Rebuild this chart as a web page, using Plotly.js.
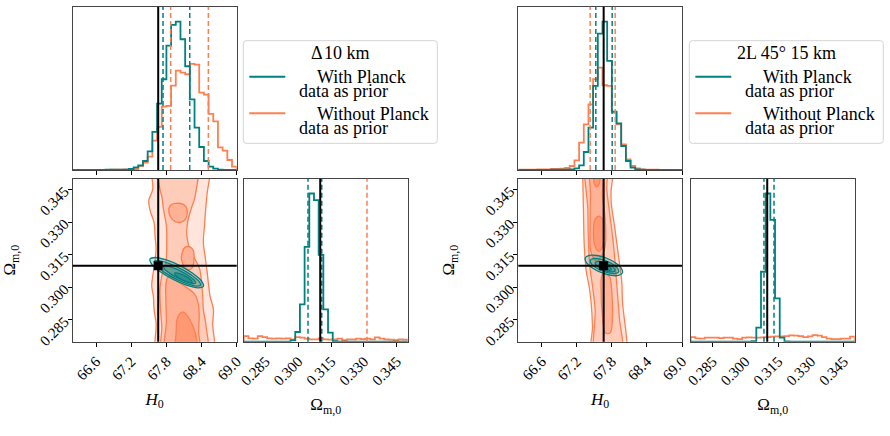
<!DOCTYPE html>
<html>
<head>
<meta charset="utf-8">
<script src="https://cdn.plot.ly/plotly-3.0.1.min.js"></script>
<style>
  html, body { margin: 0; padding: 0; background: #fff; }
  #chart { width: 890px; height: 436px; }
</style>
</head>
<body>
<div id="chart"></div>
<script>
// ---------------------------------------------------------------------------
// Posterior corner plots for H0 and Omega_m,0, two survey configurations.
// ---------------------------------------------------------------------------
const TEAL = '#008080';
const CORAL = '#FF7F50';

// fiducial cosmology
const TRUTH_H0 = 67.66;
const TRUTH_OM = 0.31;

// histogram ranges (35 bins each)
const H0_RANGE = [66.2, 69.0];
const OM_RANGE = [0.275, 0.35];
const H0_TICKS = [66.6, 67.2, 67.8, 68.4, 69.0];
const OM_TICKS = [0.285, 0.300, 0.315, 0.330, 0.345];

// ---- Delta 10 km ----------------------------------------------------------
const d10_h0_withPlanck    = [0,0,0,0,0,0,0,1,1,1,1,1,3,8,14,27,56,114,199,272,373,435,445,392,311,212,127,69,27,10,4,1,0,0,0];
const d10_h0_withoutPlanck = [0,0,0,0,0,0,0,0,1,1,1,2,2,3,12,22,40,88,129,190,192,253,298,292,287,318,316,232,226,168,146,68,58,30,10];
const d10_om_withPlanck    = [0,0,0,0,0,0,0,0,0,0,4,29,112,284,444,424,260,97,27,2,0,0,0,0,0,0,0,0,0,0,0,0,0,0,0];
const d10_om_withoutPlanck = [17,10,9,17,14,10,9,10,9,10,7,14,12,9,7,7,10,7,6,7,9,5,7,7,9,8,9,7,13,9,7,6,5,7,6];
const d10_h0_q_withPlanck    = [67.742, 68.198];
const d10_h0_q_withoutPlanck = [67.873, 68.516];
const d10_om_q_withPlanck    = [0.3044, 0.3107];
const d10_om_q_withoutPlanck = [0.3314];

// credible-region boundaries (H0, Omega_m,0), without Planck prior
const d10_noP_l1_h0 = [67.577,67.566,67.500,67.520,67.589,67.606,67.623,67.600,67.566,67.549,67.577,67.589,67.623,67.663, 68.573,68.590,68.602,68.545,68.516,68.490,68.460,68.430,68.450,68.470,68.490,68.500];
const d10_noP_l1_om = [0.360,0.3451,0.3400,0.3355,0.3298,0.3236,0.3175,0.3113,0.3052,0.3006,0.2960,0.2899,0.2837,0.265, 0.265,0.2837,0.2899,0.2960,0.3021,0.3083,0.3144,0.3206,0.3282,0.3359,0.3420,0.360];
const d10_noP_l2_h0 = [67.680,67.690,67.720,67.750,67.800,67.805,67.790,67.720,67.690,67.700,67.720,67.750, 68.480,68.477,68.430,68.420,68.400,68.370,68.320,68.200,68.150,68.160,68.220,68.290,68.306];
const d10_noP_l2_om = [0.360,0.3451,0.3420,0.3359,0.3282,0.3206,0.3113,0.3052,0.2991,0.2899,0.2822,0.265, 0.265,0.2822,0.2899,0.2960,0.3021,0.3083,0.3113,0.3175,0.3236,0.3298,0.3359,0.3420,0.360];
const d10_noP_l3a_h0 = [67.84,67.87,67.95,68.08,68.14,68.155,68.12,68.05,67.95,67.87];
const d10_noP_l3a_om = [0.3360,0.3378,0.3386,0.3383,0.3368,0.3340,0.3312,0.3300,0.3302,0.3325];
const d10_noP_l3b_h0 = [68.06,68.07,68.12,68.20,68.26,68.27,68.24,68.15];
const d10_noP_l3b_om = [0.3125,0.3160,0.3185,0.3186,0.3170,0.3130,0.3090,0.3082];
const d10_noP_l3c_h0 = [67.80,67.80,67.79,67.79,67.82,67.88,67.98,68.14,68.28,68.34,68.36,68.35,68.36];
const d10_noP_l3c_om = [0.265,0.2850,0.2950,0.3010,0.3045,0.3050,0.3030,0.3000,0.2970,0.2930,0.2870,0.2800,0.265];
const d10_noP_l4_h0 = [67.965,67.965,67.985,68.04,68.10,68.16,68.23,68.30,68.33];
const d10_noP_l4_om = [0.265,0.2790,0.2855,0.2882,0.2885,0.2868,0.2835,0.2780,0.265];
// with Planck prior
const d10_P_l1_h0 = [68.432,68.341,68.153,67.917,67.696,67.551,67.519,67.611,67.799,68.036,68.255,68.401];
const d10_P_l1_om = [0.30048,0.29974,0.30090,0.30361,0.30716,0.31060,0.31302,0.31375,0.31260,0.30988,0.30634,0.30289];
const d10_P_l2_h0 = [68.383,68.308,68.147,67.943,67.752,67.624,67.592,67.667,67.827,68.031,68.222,68.352];
const d10_P_l2_om = [0.30101,0.30060,0.30171,0.30412,0.30714,0.30998,0.31187,0.31229,0.31117,0.30876,0.30574,0.30290];
const d10_P_l3_h0 = [68.300,68.249,68.136,67.993,67.858,67.766,67.742,67.794,67.907,68.050,68.186,68.277];
const d10_P_l3_om = [0.30199,0.30177,0.30261,0.30433,0.30645,0.30840,0.30966,0.30989,0.30904,0.30733,0.30521,0.30326];
const d10_P_l4_h0 = [68.242,68.184,68.072,67.969,67.938,67.995,68.108,68.210];
const d10_P_l4_om = [0.30236,0.30231,0.30349,0.30525,0.30653,0.30659,0.30541,0.30364];

// ---- 2L 45 deg 15 km -------------------------------------------------------
const l2_h0_withPlanck    = [0,0,0,0,0,0,0,1,1,1,1,2,5,14,54,127,252,409,445,327,175,140,72,27,7,2,1,0,0,0,0,0,0,0,0];
const l2_h0_withoutPlanck = [1,1,1,1,2,2,2,3,3,4,6,12,29,82,137,197,272,307,254,252,172,137,77,32,12,5,2,1,1,1,0,0,0,0,0];
const l2_om_withPlanck    = [0,0,0,0,0,0,0,0,0,0,0,0,0,2,42,210,445,366,130,12,1,0,0,0,0,0,0,0,0,0,0,0,0,0,0];
const l2_om_withoutPlanck = [14,10,9,12,12,12,11,12,12,9,8,12,13,12,12,13,14,15,16,16,17,19,18,17,14,16,20,18,14,9,8,8,9,9,15];
const l2_h0_q_withPlanck    = [67.526, 67.806];
const l2_h0_q_withoutPlanck = [67.429, 67.857];
const l2_om_q_withPlanck    = [0.3085, 0.3131];

const l2_noP_l1_h0 = [67.303,67.303,67.314,67.326,67.343,67.366,67.411,67.446,67.469,67.469, 68.063,68.057,68.029,67.983,67.971,67.937,67.891,67.846,67.789,67.789,67.811,67.811];
const l2_noP_l1_om = [0.360,0.3500,0.3359,0.3206,0.3129,0.3067,0.3006,0.2929,0.2822,0.265, 0.265,0.2750,0.2822,0.2929,0.3021,0.3098,0.3190,0.3282,0.3390,0.3451,0.3500,0.360];
const l2_noP_l2_h0 = [67.377,67.389,67.400,67.423,67.469,67.514,67.537, 67.960,67.926,67.886,67.857,67.811,67.754,67.714,67.697];
const l2_noP_l2_om = [0.360,0.3359,0.3206,0.3098,0.3006,0.2899,0.265, 0.265,0.2868,0.3006,0.3113,0.3236,0.3359,0.3451,0.360];
const l2_noP_l3a_h0 = [67.446,67.434,67.429,67.446,67.543,67.674,67.686,67.640,67.630];
const l2_noP_l3a_om = [0.360,0.3420,0.3282,0.3160,0.3121,0.3175,0.3313,0.3420,0.360];
const l2_noP_l3b_h0 = [67.640,67.617,67.640,67.686,67.771,67.811,67.800,67.754];
const l2_noP_l3b_om = [0.3060,0.2975,0.2868,0.2791,0.2791,0.2868,0.2975,0.3052];
const l2_noP_l4a_h0 = [67.577,67.640,67.663,67.640,67.577,67.514,67.486,67.514];
const l2_noP_l4a_om = [0.3328,0.3313,0.3248,0.3187,0.3167,0.3187,0.3248,0.3313];
const l2_noP_l4b_h0 = [67.503,67.583,67.583,67.543,67.503];
const l2_noP_l4b_om = [0.353,0.353,0.3474,0.3462,0.3474];
const l2_P_l1_h0 = [67.981,67.914,67.779,67.614,67.461,67.363,67.345,67.412,67.547,67.712,67.865,67.963];
const l2_P_l1_om = [0.30667,0.30549,0.30557,0.30686,0.30902,0.31147,0.31357,0.31475,0.31466,0.31339,0.31121,0.30877];
const l2_P_l2_h0 = [67.918,67.868,67.766,67.640,67.523,67.446,67.431,67.481,67.582,67.709,67.826,67.902];
const l2_P_l2_om = [0.30716,0.30640,0.30652,0.30755,0.30916,0.31097,0.31245,0.31324,0.31311,0.31209,0.31048,0.30867];
const l2_P_l3_h0 = [67.855,67.789,67.662,67.549,67.516,67.582,67.709,67.822];
const l2_P_l3_om = [0.30767,0.30710,0.30794,0.30971,0.31135,0.31192,0.31107,0.30931];
const l2_P_l4_h0 = [67.793,67.755,67.685,67.621,67.602,67.639,67.710,67.774];
const l2_P_l4_om = [0.30816,0.30787,0.30834,0.30934,0.31023,0.31054,0.31006,0.30906];

// legend text
const legendTitles = ['\u0394\u200a10 km', '2L 45\u00b0 15 km'];
const legendLabels = [['With Planck', 'data as prior'], ['Without Planck', 'data as prior']];

// ---------------------------------------------------------------------------
const W = 890, H = 436;
const FONT = '"Liberation Serif", "DejaVu Serif", serif';
const px = v => v / W;
const py = v => 1 - v / H;

// coral / teal region fills, darker toward the peak
const CORAL_FILLS = ['#FFE5DC', '#FFCCB9', '#FFB296', '#FF9973'];
const TEAL_FILLS = ['rgba(0,128,128,0.20)', 'rgba(0,128,128,0.25)', 'rgba(0,128,128,0.33)', 'rgba(0,128,128,0.50)'];

function binEdges(range, n) {
  const w = (range[1] - range[0]) / n;
  return Array.from({ length: n + 1 }, (_, i) => range[0] + i * w);
}

function stepTrace(counts, range, color, xa, ya) {
  const e = binEdges(range, counts.length);
  const x = [e[0]], y = [0];
  counts.forEach((c, i) => { x.push(e[i]); y.push(c); });
  x.push(e[counts.length]); y.push(counts[counts.length - 1]);
  x.push(e[counts.length]); y.push(0);
  return { type: 'scatter', mode: 'lines', x, y, xaxis: xa, yaxis: ya,
           line: { color, width: 1.8, shape: 'hv' }, hoverinfo: 'skip', showlegend: false };
}

function region(xs, ys, fill, lineColor, xa, ya) {
  return { type: 'scatter', mode: 'lines', x: xs.concat([xs[0]]), y: ys.concat([ys[0]]),
           fill: 'toself', fillcolor: fill,
           line: { color: lineColor, width: 1.3, shape: 'spline', smoothing: 1 },
           xaxis: xa, yaxis: ya, hoverinfo: 'skip', showlegend: false };
}

function truthMarker(xa, ya) {
  return { type: 'scatter', mode: 'markers', x: [TRUTH_H0], y: [TRUTH_OM], xaxis: xa, yaxis: ya,
           marker: { symbol: 'square', size: 9, color: '#000' }, hoverinfo: 'skip', showlegend: false };
}

const traces = [
  // Delta 10 km
  stepTrace(d10_h0_withoutPlanck, H0_RANGE, CORAL, 'x', 'y'),
  stepTrace(d10_h0_withPlanck, H0_RANGE, TEAL, 'x', 'y'),
  region(d10_noP_l1_h0, d10_noP_l1_om, CORAL_FILLS[0], CORAL, 'x2', 'y2'),
  region(d10_noP_l2_h0, d10_noP_l2_om, CORAL_FILLS[1], CORAL, 'x2', 'y2'),
  region(d10_noP_l3a_h0, d10_noP_l3a_om, CORAL_FILLS[2], CORAL, 'x2', 'y2'),
  region(d10_noP_l3b_h0, d10_noP_l3b_om, CORAL_FILLS[2], CORAL, 'x2', 'y2'),
  region(d10_noP_l3c_h0, d10_noP_l3c_om, CORAL_FILLS[2], CORAL, 'x2', 'y2'),
  region(d10_noP_l4_h0, d10_noP_l4_om, CORAL_FILLS[3], CORAL, 'x2', 'y2'),
  region(d10_P_l1_h0, d10_P_l1_om, TEAL_FILLS[0], TEAL, 'x2', 'y2'),
  region(d10_P_l2_h0, d10_P_l2_om, TEAL_FILLS[1], TEAL, 'x2', 'y2'),
  region(d10_P_l3_h0, d10_P_l3_om, TEAL_FILLS[2], TEAL, 'x2', 'y2'),
  region(d10_P_l4_h0, d10_P_l4_om, TEAL_FILLS[3], TEAL, 'x2', 'y2'),
  truthMarker('x2', 'y2'),
  stepTrace(d10_om_withoutPlanck, OM_RANGE, CORAL, 'x3', 'y3'),
  stepTrace(d10_om_withPlanck, OM_RANGE, TEAL, 'x3', 'y3'),
  // 2L 45 deg 15 km
  stepTrace(l2_h0_withoutPlanck, H0_RANGE, CORAL, 'x4', 'y4'),
  stepTrace(l2_h0_withPlanck, H0_RANGE, TEAL, 'x4', 'y4'),
  region(l2_noP_l1_h0, l2_noP_l1_om, CORAL_FILLS[0], CORAL, 'x5', 'y5'),
  region(l2_noP_l2_h0, l2_noP_l2_om, CORAL_FILLS[1], CORAL, 'x5', 'y5'),
  region(l2_noP_l3a_h0, l2_noP_l3a_om, CORAL_FILLS[2], CORAL, 'x5', 'y5'),
  region(l2_noP_l3b_h0, l2_noP_l3b_om, CORAL_FILLS[2], CORAL, 'x5', 'y5'),
  region(l2_noP_l4a_h0, l2_noP_l4a_om, CORAL_FILLS[3], CORAL, 'x5', 'y5'),
  region(l2_noP_l4b_h0, l2_noP_l4b_om, CORAL_FILLS[3], CORAL, 'x5', 'y5'),
  region(l2_P_l1_h0, l2_P_l1_om, TEAL_FILLS[0], TEAL, 'x5', 'y5'),
  region(l2_P_l2_h0, l2_P_l2_om, TEAL_FILLS[1], TEAL, 'x5', 'y5'),
  region(l2_P_l3_h0, l2_P_l3_om, TEAL_FILLS[2], TEAL, 'x5', 'y5'),
  region(l2_P_l4_h0, l2_P_l4_om, TEAL_FILLS[3], TEAL, 'x5', 'y5'),
  truthMarker('x5', 'y5'),
  stepTrace(l2_om_withoutPlanck, OM_RANGE, CORAL, 'x6', 'y6'),
  stepTrace(l2_om_withPlanck, OM_RANGE, TEAL, 'x6', 'y6')
];

// ---- axes -----------------------------------------------------------------
const tickFont = { family: FONT, size: 15, color: '#000' };
const titleFont = { family: FONT, size: 17, color: '#000' };

function axis(domain, range, anchor, extra) {
  return Object.assign({
    domain, range, anchor, showline: true, mirror: true, linecolor: '#444', linewidth: 1.2,
    showgrid: false, zeroline: false, ticks: '', showticklabels: false, fixedrange: true,
    tickfont: tickFont
  }, extra || {});
}
const tickOpts = vals => ({ ticks: 'outside', ticklen: 4, tickwidth: 1, tickcolor: '#000', tickvals: vals });
const histMax = (a, b) => 1.1 * Math.max(...a, ...b);

const colX = [[72.7, 236.7], [243.7, 407.7], [518.3, 682.0], [690.7, 854.7]];
const rowTop = [6.7, 170.0], rowBot = [178.7, 341.7];
const dX = c => [px(c[0]), px(c[1])];
const dY = r => [py(r[1]), py(r[0])];

const h0Title = { text: '<i>H</i><sub>0</sub>', font: titleFont, standoff: 10 };
const omTitle = { text: '\u03a9<sub>m,0</sub>', font: titleFont, standoff: 10 };
const omYTitle = { text: '\u03a9<sub>m,0</sub>', font: titleFont, standoff: 23 };

const layout = {
  width: W, height: H, margin: { l: 0, r: 0, t: 0, b: 0 },
  paper_bgcolor: '#fff', plot_bgcolor: '#fff', showlegend: false,
  font: { family: FONT, color: '#000' },
  // Delta 10 km
  xaxis:  axis(dX(colX[0]), H0_RANGE, 'y', tickOpts(H0_TICKS)),
  yaxis:  axis(dY(rowTop), [0, histMax(d10_h0_withPlanck, d10_h0_withoutPlanck)], 'x'),
  xaxis2: axis(dX(colX[0]), H0_RANGE, 'y2', Object.assign(tickOpts(H0_TICKS), { showticklabels: true, tickangle: -45, tickformat: '.1f', title: h0Title })),
  yaxis2: axis(dY(rowBot), OM_RANGE, 'x2', Object.assign(tickOpts(OM_TICKS), { showticklabels: true, tickangle: -45, tickformat: '.3f', title: omYTitle })),
  xaxis3: axis(dX(colX[1]), OM_RANGE, 'y3', Object.assign(tickOpts(OM_TICKS), { showticklabels: true, tickangle: -45, tickformat: '.3f', title: omTitle })),
  yaxis3: axis(dY(rowBot), [0, histMax(d10_om_withPlanck, d10_om_withoutPlanck)], 'x3'),
  // 2L 45 deg 15 km
  xaxis4: axis(dX(colX[2]), H0_RANGE, 'y4', tickOpts(H0_TICKS)),
  yaxis4: axis(dY(rowTop), [0, histMax(l2_h0_withPlanck, l2_h0_withoutPlanck)], 'x4'),
  xaxis5: axis(dX(colX[2]), H0_RANGE, 'y5', Object.assign(tickOpts(H0_TICKS), { showticklabels: true, tickangle: -45, tickformat: '.1f', title: h0Title })),
  yaxis5: axis(dY(rowBot), OM_RANGE, 'x5', Object.assign(tickOpts(OM_TICKS), { showticklabels: true, tickangle: -45, tickformat: '.3f', title: omYTitle })),
  xaxis6: axis(dX(colX[3]), OM_RANGE, 'y6', Object.assign(tickOpts(OM_TICKS), { showticklabels: true, tickangle: -45, tickformat: '.3f', title: omTitle })),
  yaxis6: axis(dY(rowBot), [0, histMax(l2_om_withPlanck, l2_om_withoutPlanck)], 'x6'),
  shapes: [],
  annotations: []
};

// quantile and fiducial lines
function vline(x, xa, color, dash, width) {
  return { type: 'line', xref: xa, yref: xa.replace('x', 'y') + ' domain', x0: x, x1: x, y0: 0, y1: 1,
           line: { color, width, dash }, layer: 'above' };
}
function hline(y, ya, xa) {
  return { type: 'line', xref: xa + ' domain', yref: ya, x0: 0, x1: 1, y0: y, y1: y,
           line: { color: '#000', width: 2 }, layer: 'above' };
}
const dash = '5px,3px';
d10_h0_q_withPlanck.forEach(v => layout.shapes.push(vline(v, 'x', TEAL, dash, 1.5)));
d10_h0_q_withoutPlanck.forEach(v => layout.shapes.push(vline(v, 'x', CORAL, dash, 1.5)));
d10_om_q_withPlanck.forEach(v => layout.shapes.push(vline(v, 'x3', TEAL, dash, 1.5)));
d10_om_q_withoutPlanck.forEach(v => layout.shapes.push(vline(v, 'x3', CORAL, dash, 1.5)));
l2_h0_q_withPlanck.forEach(v => layout.shapes.push(vline(v, 'x4', TEAL, dash, 1.5)));
l2_h0_q_withoutPlanck.forEach(v => layout.shapes.push(vline(v, 'x4', CORAL, dash, 1.5)));
l2_om_q_withPlanck.forEach(v => layout.shapes.push(vline(v, 'x6', TEAL, dash, 1.5)));
['x', 'x2', 'x4', 'x5'].forEach(xa => layout.shapes.push(vline(TRUTH_H0, xa, '#000', 'solid', 2)));
['x3', 'x6'].forEach(xa => layout.shapes.push(vline(TRUTH_OM, xa, '#000', 'solid', 2)));
layout.shapes.push(hline(TRUTH_OM, 'y2', 'x2'));
layout.shapes.push(hline(TRUTH_OM, 'y5', 'x5'));

// legends: framed box, title, line samples and two-line labels
function roundedBox(x0, y0, x1, y1, r) {
  const P = (x, y) => px(x) + ',' + py(y);
  return 'M' + P(x0 + r, y0) + ' L' + P(x1 - r, y0) + ' Q' + P(x1, y0) + ' ' + P(x1, y0 + r) +
         ' L' + P(x1, y1 - r) + ' Q' + P(x1, y1) + ' ' + P(x1 - r, y1) +
         ' L' + P(x0 + r, y1) + ' Q' + P(x0, y1) + ' ' + P(x0, y1 - r) +
         ' L' + P(x0, y0 + r) + ' Q' + P(x0, y0) + ' ' + P(x0 + r, y0) + ' Z';
}
const legendFont = { family: FONT, size: 18, color: '#000' };
[243.3, 689.3].forEach((left, i) => {
  const right = left + 194;
  layout.shapes.push({ type: 'path', xref: 'paper', yref: 'paper', path: roundedBox(left, 40.7, right, 143.3, 3),
                       fillcolor: 'rgba(255,255,255,0.8)', line: { color: '#d4d4d4', width: 1 }, layer: 'above' });
  layout.annotations.push({ xref: 'paper', yref: 'paper', x: px((left + right) / 2), y: py(53), xanchor: 'center', yanchor: 'middle',
                            text: legendTitles[i], showarrow: false, font: legendFont });
  [TEAL, CORAL].forEach((c, j) => {
    const yy = 76.7 + j * 36.6;
    layout.shapes.push({ type: 'line', xref: 'paper', yref: 'paper', x0: px(left + 6), x1: px(left + 42), y0: py(yy), y1: py(yy),
                         line: { color: c, width: 2 }, layer: 'above' });
    layout.annotations.push({ xref: 'paper', yref: 'paper', x: px(left + 71.5), y: py(yy + 0.5), xanchor: 'left', yanchor: 'middle',
                              text: legendLabels[j][0], showarrow: false, font: legendFont });
    layout.annotations.push({ xref: 'paper', yref: 'paper', x: px(left + 54), y: py(yy + 14.3), xanchor: 'left', yanchor: 'middle',
                              text: legendLabels[j][1], showarrow: false, font: legendFont });
  });
});

Plotly.newPlot('chart', traces, layout, { staticPlot: true, displayModeBar: false });
</script>
</body>
</html>
